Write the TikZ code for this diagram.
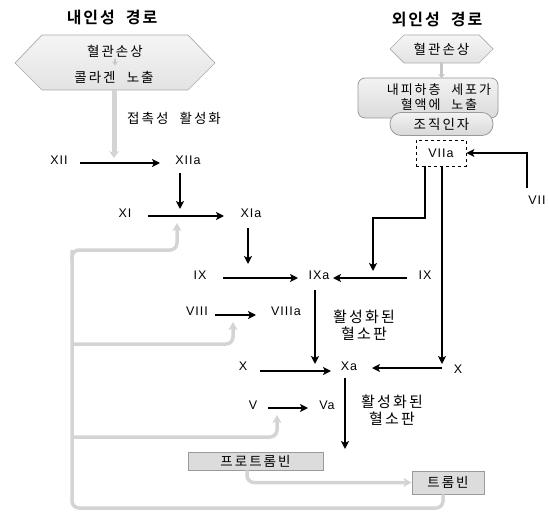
\documentclass[tikz,border=0pt]{standalone}
\usepackage{fontspec}
\setmainfont{Noto Sans CJK KR}
\newfontfamily\latinf[LetterSpace=8]{Liberation Sans}
\newfontfamily\korf[LetterSpace=15,WordSpace=2.2]{Noto Sans CJK KR}
\newfontfamily\korb[LetterSpace=12,WordSpace=2]{Noto Sans CJK KR Bold}
\usetikzlibrary{arrows.meta}
\definecolor{lgray}{HTML}{D4D4D4}
\definecolor{boxfill}{HTML}{DCDCDC}
\definecolor{boxline}{HTML}{9A9A9A}
\begin{document}
\begin{tikzpicture}[x=1pt,y=-1pt,
  lab/.style={font=\latinf\fontsize{12.5}{14}\selectfont, inner sep=0pt},
  kor/.style={font=\korf\fontsize{13.5}{17}\selectfont, align=center, inner sep=0pt},
  ttl/.style={font=\korb\fontsize{16}{19}\selectfont, inner sep=0pt},
  arr/.style={line width=1.8pt, -{Stealth[length=8pt,width=8pt,inset=2pt]}},
  garr/.style={draw=lgray, line width=3.5pt, rounded corners=7pt, -{Stealth[length=8pt,width=9pt,inset=2pt]}},
  gline/.style={draw=lgray, line width=3.5pt, rounded corners=7pt},
  gbox/.style={draw=boxline, fill=boxfill, line width=0.8pt, inner sep=0pt}
]
\useasboundingbox (0,0) rectangle (549,516);

% titles
\node[ttl] (tl) at (112,18) {내인성 경로};
\node[ttl] (tr) at (437,20) {외인성 경로};

% left hexagon
\path[draw=lgray!80!black, line width=0.7pt, top color=gray!8, bottom color=gray!22]
  (15,63) -- (42,35) -- (188,35) -- (215,63) -- (188,90) -- (42,90) -- cycle;
\node[kor] (hl1) at (115,51) {혈관손상};
\node[kor] (hl2) at (114,77) {콜라겐 노출};
\node[inner sep=0pt, minimum width=200pt, minimum height=55pt] (hexL) at (115,62.5) {};
\draw[draw=gray!45, line width=2pt, -{Stealth[length=4pt,width=6pt]}] (hl1.south) ++(0,2) -- ++(0,6);

% right hexagon
\path[draw=lgray!80!black, line width=0.7pt, top color=gray!8, bottom color=gray!22]
  (390,49) -- (404,35) -- (479,35) -- (493,49) -- (479,63) -- (404,63) -- cycle;
\node[kor] (hexR) at (441.5,49) {혈관손상};

% exposure box + tissue factor
\node[gbox, rounded corners=7pt, minimum width=140pt, minimum height=40pt, top color=gray!10, bottom color=gray!28] (expo) at (428,98) {};
\node[kor, font=\korf\fontsize{13}{15}\selectfont] at (439,97) {내피하층 세포가\\혈액에 노출};
\node[gbox, rounded corners=11pt, minimum width=103pt, minimum height=23pt, top color=gray!10, bottom color=gray!30, kor] (tf) at (441.5,124) {조직인자};
\draw[draw=gray!45, line width=3pt, -{Stealth[length=4pt,width=7pt]}] (hexR.south |- 441,63) -- (441.5,78);

% contact activation
\draw[draw=lgray, line width=5pt, -{Stealth[length=7pt,width=10pt]}] (hexL.south -| 114,90) -- (114,158);
\node[kor, anchor=west] (contact) at (127,118) {접촉성 활성화};

% VIIa dashed
\node[draw, dashed, line width=0.8pt, minimum width=50pt, minimum height=26pt, lab] (VIIa) at (441,153) {VIIa};
\node[lab] (VII) at (537,200) {VII};
\draw[arr] (VII.north -| 527,0) ++(0,-8) |- (VIIa.east);

% factor nodes
\node[lab] (XII) at (59,160) {XII};
\node[lab] (XIIa) at (188,160) {XIIa};
\node[lab] (XI) at (125,213) {XI};
\node[lab] (XIa) at (251,213) {XIa};
\node[lab] (IXl) at (200,275) {IX};
\node[lab] (IXa) at (319,275) {IXa};
\node[lab] (IXr) at (425,275) {IX};
\node[lab] (VIII) at (197,311) {VIII};
\node[lab] (VIIIa) at (286,311) {VIIIa};
\node[lab] (Xl) at (243,366) {X};
\node[lab] (Xa) at (349,366) {Xa};
\node[lab] (Xr) at (458,369) {X};
\node[lab] (V) at (253,405) {V};
\node[lab] (Va) at (327,405) {Va};

% horizontal arrows
\draw[arr] (80,163) -- (160,163);
\draw[arr] (148,216) -- (224,216);
\draw[arr] (223,278) -- (298,278);
\draw[arr] (407,278) -- (333,278);
\draw[arr] (215,315) -- (256,315);
\draw[arr] (260,371) -- (331,371);
\draw[arr] (442,368) -- (372,368);
\draw[arr] (268,408) -- (308,408);

% vertical arrows
\draw[arr] (180,173) -- (180,209);
\draw[arr] (248,228) -- (248,264);
\draw[arr] (315,290) -- (315,364);
\draw[arr] (345,378) -- (345,449);
\draw[arr] (425,166) |- (373,218) -- (373,271);
\draw[arr] (442,166) -- (442,364);

% platelet labels
\node[kor, font=\korf\fontsize{15}{17}\selectfont] (plt1) at (364,325) {활성화된\\혈소판};
\node[kor, font=\korf\fontsize{15}{17}\selectfont] (plt2) at (392,410) {활성화된\\혈소판};

% prothrombin / thrombin
\node[gbox, minimum width=135pt, minimum height=18pt, kor] (proT) at (255.5,461) {프로트롬빈};
\node[gbox, minimum width=72pt, minimum height=23pt, kor] (thr) at (448,482.5) {트롬빈};
\draw[garr] (proT.south -| 247,0) |- (thr.west);

% feedback
\draw[gline] (thr.south -| 443,0) |- (72,508) -- (72,250);
\draw[garr] (72,262) |- (177,250) -- (177,223);
\draw[garr] (72,344) -| (233,322);
\draw[garr] (72,437) -| (277,415);
\end{tikzpicture}
\end{document}
